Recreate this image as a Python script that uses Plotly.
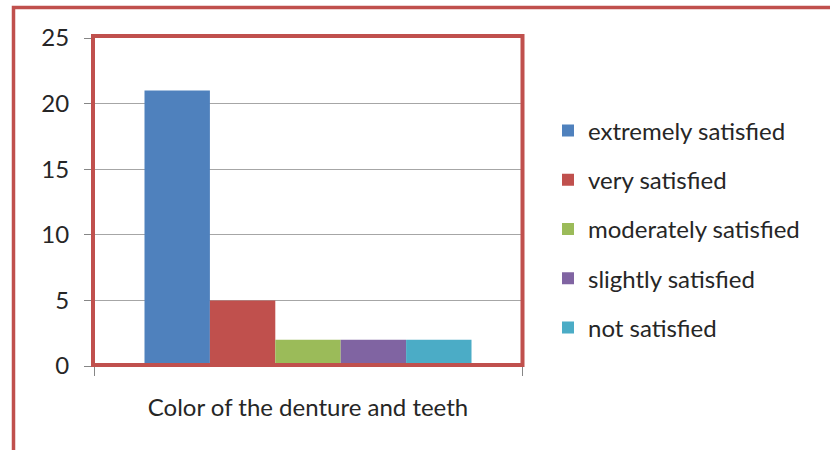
import plotly.graph_objects as go

categories = ["Color of the denture and teeth"]
series_names = ["extremely satisfied", "very satisfied", "moderately satisfied",
                "slightly satisfied", "not satisfied"]
series_values = [21, 5, 2, 2, 2]
colors = ["#4F81BD", "#C0504D", "#9BBB59", "#8064A2", "#4BACC6"]
y_ticks = [0, 5, 10, 15, 20, 25]

W, H = 830, 450
L, R, T, B = 94, 308, 38, 84
pw, ph = W - L - R, H - T - B

def px_x(x):
    return (x - L) / pw

def px_y(y):
    return 1 - (y - T) / ph

fig = go.Figure()
for i, (name, val, col) in enumerate(zip(series_names, series_values, colors)):
    fig.add_trace(go.Bar(x=categories, y=[val], name=name, marker_color=col,
                         marker_line_width=0, legendgroup=f"g{i}"))

font_family = "Lato, 'Open Sans', sans-serif"
fig.update_layout(
    width=W, height=H,
    margin=dict(l=L, r=R, t=T, b=B),
    paper_bgcolor="white", plot_bgcolor="white",
    barmode="group", bargap=0.236, bargroupgap=0,
    font=dict(family=font_family, size=24, color="#262626"),
    showlegend=True,
    legend=dict(x=px_x(548), xanchor="left", y=px_y(229), yanchor="middle",
                tracegroupgap=15, font=dict(size=24, color="#262626"),
                bgcolor="rgba(0,0,0,0)"),
    xaxis=dict(showgrid=False, showline=True, linecolor="#868686", linewidth=1,
               ticks="outside", ticklen=9, tickcolor="#868686", tickson="boundaries",
               ticklabelstandoff=20, tickfont=dict(size=24)),
    yaxis=dict(range=[0, 25], tickvals=y_ticks, showgrid=True, gridcolor="#A6A6A6",
               gridwidth=1, showline=True, linecolor="#868686", linewidth=1,
               ticks="outside", ticklen=9, tickcolor="#868686",
               ticklabelstandoff=10, tickfont=dict(size=24), zeroline=False),
    shapes=[
        dict(type="rect", xref="paper", yref="paper",
             x0=px_x(13.5), x1=px_x(900), y0=px_y(7.5), y1=px_y(520),
             line=dict(color="#C0504D", width=3.5), layer="above"),
        dict(type="rect", xref="paper", yref="paper",
             x0=px_x(93), x1=px_x(522.5), y0=px_y(36), y1=px_y(365),
             line=dict(color="#C0504D", width=4), layer="above"),
    ],
)

fig.write_html("out.html")
